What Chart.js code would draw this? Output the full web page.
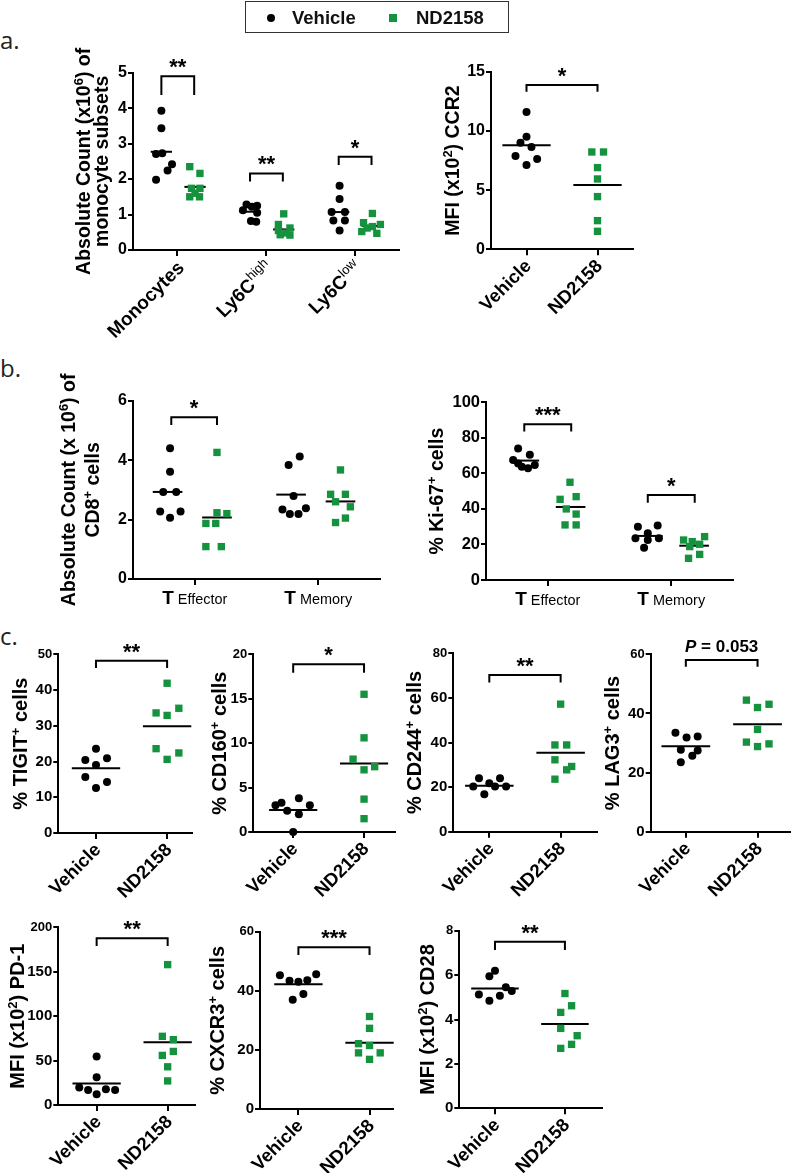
<!DOCTYPE html>
<html>
<head>
<meta charset="UTF-8">
<title>ND2158 vs Vehicle: monocytes and CD8+ T cells</title>
<script src="https://cdn.jsdelivr.net/npm/chart.js"></script>
<style>
  body { margin: 0; background: #fff; }
  #page { position: relative; width: 795px; height: 1173px; overflow: hidden; }
  #page canvas { position: absolute; left: 0; top: 0; }
  .tag { position: absolute; left: 0; font-family: 'Open Sans', sans-serif; font-size: 24px; line-height: 28px; color: #222; }
  .lg { position: absolute; z-index: 5; }
  #lgBox { left: 245px; top: 1px; width: 264px; height: 32px; box-sizing: border-box; border: 1.5px solid #333; }
  .lgText { font-family: 'Liberation Sans', Arial, sans-serif; font-weight: bold; font-size: 18.5px; line-height: 22px; color: #111; }
</style>
</head>
<body>
<div id="page">
  <div class="lg" id="lgBox"></div>
  <div class="lg" style="left:267px;top:14px;width:8px;height:8px;border-radius:50%;background:#000"></div>
  <div class="lg lgText" style="left:292px;top:7px">Vehicle</div>
  <div class="lg" style="left:389px;top:14px;width:8px;height:8px;background:#15923d"></div>
  <div class="lg lgText" style="left:416px;top:7px">ND2158</div>
  <div class="tag" style="top:26px">a.</div>
  <div class="tag" style="top:354px">b.</div>
  <div class="tag" style="top:622px">c.</div>
</div>

<script>
const FONT = "'Liberation Sans', Arial, Helvetica, sans-serif";
const GREEN = '#15923d';

// ---------- a. monocyte subsets, absolute count (x10^6)
const monoLabels = ['Monocytes', 'Ly6C^{high}', 'Ly6C^{low}'];
const monoVeh = [
  [3.93, 3.43, 2.71, 2.73, 2.42, 2.24, 1.98],
  [1.28, 1.25, 1.22, 1.12, 1.05, 0.82, 0.80],
  [1.81, 1.44, 1.07, 1.07, 0.83, 0.83, 0.55]
];
const monoVehDx = [
  [-0.18, -0.18, -0.24, -0.17, -0.06, -0.11, -0.24],
  [-0.22, -0.10, -0.16, -0.26, -0.10, -0.17, -0.11],
  [-0.17, -0.17, -0.26, -0.11, -0.24, -0.11, -0.17]
];
const monoNd = [
  [2.35, 2.16, 1.74, 1.74, 1.60, 1.50, 1.50],
  [1.02, 0.72, 0.62, 0.55, 0.48, 0.43, 0.42],
  [1.03, 0.77, 0.72, 0.66, 0.62, 0.52, 0.47]
];
const monoNdDx = [
  [0.14, 0.255, 0.16, 0.255, 0.20, 0.14, 0.25],
  [0.20, 0.14, 0.27, 0.14, 0.23, 0.16, 0.27],
  [0.20, 0.10, 0.29, 0.20, 0.14, 0.08, 0.25]
];
const monoVehMean = [2.77, 1.08, 1.07];
const monoNdMean = [1.78, 0.58, 0.68];
const monoSig = ['**', '**', '*'];
const monoSigTop = [4.9, 2.16, 2.63];
const monoSigBottom = [4.37, 1.93, 2.40];

// ---------- a. CCR2 MFI (x10^2)
const ccr2Veh = [11.6, 9.5, 9.0, 8.64, 7.88, 7.63, 7.12];
const ccr2VehDx = [0, 0, -0.085, 0.07, -0.155, 0.15, 0];
const ccr2Nd = [8.22, 8.22, 6.9, 5.94, 4.45, 2.42, 1.52];
const ccr2NdDx = [-0.08, 0.085, 0, 0, 0, 0, 0];
const ccr2Mean = [8.78, 5.43];

// ---------- b. CD8+ absolute count (x10^6)
const tLabels = ['T_{ Effector}', 'T_{ Memory}'];
const cd8Veh = [[4.40, 3.61, 2.93, 2.93, 2.27, 2.27, 2.06], [4.12, 3.84, 2.79, 2.38, 2.34, 2.19, 2.19]];
const cd8VehDx = [[-0.20, -0.20, -0.255, -0.15, -0.28, -0.115, -0.20], [-0.15, -0.24, -0.20, -0.10, -0.29, -0.23, -0.16]];
const cd8Nd = [[4.26, 2.23, 2.20, 1.87, 1.87, 1.09, 1.09], [3.67, 2.85, 2.85, 2.60, 2.43, 2.05, 1.90]];
const cd8NdDx = [[0.18, 0.18, 0.26, 0.09, 0.17, 0.09, 0.215], [0.18, 0.10, 0.22, 0.14, 0.26, 0.22, 0.14]];
const cd8VehMean = [2.93, 2.84];
const cd8NdMean = [2.07, 2.61];
const cd8Sig = ['*', ''];
const cd8SigTop = [5.44, 0];
const cd8SigBottom = [5.18, 0];

// ---------- b. % Ki-67+
const ki67Veh = [[74, 70.5, 67.5, 65.5, 64.7, 63.8, 62.9], [30.6, 30, 26.3, 23.5, 23.5, 22.5, 18.2]];
const ki67VehDx = [[-0.24, -0.145, -0.28, -0.24, -0.105, -0.21, -0.16], [-0.11, -0.27, -0.19, -0.29, -0.10, -0.19, -0.22]];
const ki67Nd = [[55, 46.9, 45.4, 40, 37.1, 31, 31], [24.4, 22.5, 21.6, 20.1, 18.8, 14.4, 12.2]];
const ki67NdDx = [[0.18, 0.23, 0.10, 0.15, 0.23, 0.14, 0.23], [0.27, 0.10, 0.17, 0.23, 0.15, 0.23, 0.14]];
const ki67VehMean = [67.2, 24.8];
const ki67NdMean = [41.1, 19.3];
const ki67Sig = ['***', '*'];
const ki67SigTop = [87.6, 47.8];
const ki67SigBottom = [83.5, 43.5];

// ---------- c. treatment groups
const treatLabels = ['Vehicle', 'ND2158'];

const tigitVeh = [23.6, 20.9, 20.4, 19.0, 15.7, 14.3, 12.6];
const tigitVehDx = [0, 0.155, -0.15, 0, -0.15, 0.155, 0];
const tigitNd = [41.9, 34.9, 33.6, 32.9, 23.6, 22.4, 20.6];
const tigitNdDx = [0, 0.165, -0.155, 0, -0.155, 0.165, 0];
const tigitMean = [18.1, 29.9];

const cd160Veh = [3.8, 3.3, 3.0, 3.0, 2.4, 2.0, 0.0];
const cd160VehDx = [0.08, -0.165, -0.25, 0.235, -0.085, 0.08, 0];
const cd160Nd = [15.5, 10.6, 8.2, 7.35, 7.0, 3.7, 1.5];
const cd160NdDx = [0, 0, -0.155, 0.15, 0, 0, 0];
const cd160Mean = [2.47, 7.72];

const cd244Veh = [24, 24, 21.75, 20.25, 20.25, 20.25, 16.8];
const cd244VehDx = [-0.145, 0.15, 0, -0.225, 0.08, 0.235, -0.07];
const cd244Nd = [57.2, 38.9, 38.9, 32.25, 29.25, 27.75, 23.55];
const cd244NdDx = [0, -0.08, 0.085, -0.08, 0.155, 0.085, -0.08];
const cd244Mean = [20.55, 35.4];

const lag3Veh = [33.5, 32.2, 31.9, 27.7, 27.5, 25.7, 23.5];
const lag3VehDx = [-0.145, 0.165, 0.01, -0.07, 0.165, 0.09, -0.07];
const lag3Nd = [44.5, 43.1, 42.0, 34.6, 30.3, 29.7, 28.8];
const lag3NdDx = [-0.155, 0.16, 0, 0, -0.155, 0.16, 0];
const lag3Mean = [28.9, 36.3];

const pd1Veh = [54.7, 31.3, 19.6, 17.7, 17.0, 17.0, 12.0];
const pd1VehDx = [0, 0, -0.245, 0.13, -0.12, 0.26, 0];
const pd1Nd = [158, 77.3, 73.5, 60.3, 55.8, 43.0, 27.1];
const pd1NdDx = [0, -0.075, 0.08, 0.08, -0.075, 0, 0];
const pd1Mean = [24.1, 70.5];

const cxcr3Veh = [45.6, 45.3, 43.6, 43.4, 43.1, 38.9, 37.0];
const cxcr3VehDx = [0.25, -0.26, 0.125, -0.125, 0, 0.07, -0.08];
const cxcr3Nd = [31.3, 27.3, 22.1, 21.5, 19.0, 19.0, 16.8];
const cxcr3NdDx = [0, 0, -0.155, 0, -0.155, 0.15, 0];
const cxcr3Mean = [42.2, 22.4];

const cd28Veh = [6.2, 5.95, 5.45, 5.28, 5.13, 5.07, 4.85];
const cd28VehDx = [0, -0.08, 0.155, 0.24, -0.23, 0.07, -0.08];
const cd28Nd = [5.17, 4.62, 4.32, 3.6, 3.27, 2.88, 2.7];
const cd28NdDx = [0, 0.095, -0.06, -0.06, 0.175, 0.095, -0.06];
const cd28Mean = [5.4, 3.8];

// significance label, bracket top and bottom (in data units) for the c panels
const cSig = ['**', '*', '**', '~{P} = 0.053', '**', '***', '**'];
const cSigTop = [48.2, 18.87, 70.3, 58.1, 187.6, 54.7, 7.5];
const cSigBottom = [46.2, 17.93, 66.9, 55.8, 179, 52.1, 7.13];

// ---------- helpers
function pairedClusters(groupX, veh, vehDx, nd, ndDx, vehMean, ndMean, off) {
  const out = [];
  groupX.forEach((g, i) => {
    out.push({ kind: 'veh', gx: g, values: veh[i], dx: vehDx[i], mean: vehMean[i], meanDx: off.veh, half: off.half });
    out.push({ kind: 'nd', gx: g, values: nd[i], dx: ndDx[i], mean: ndMean[i], meanDx: off.nd, half: off.half });
  });
  return out;
}
function pairedBrackets(groupX, sig, top, bottom, l, r) {
  return groupX.map((g, i) => sig[i] ? { x1: g + l, x2: g + r, text: sig[i], top: top[i], bottom: bottom[i] } : null)
               .filter(Boolean);
}
function twoGroup(g0, veh, vehDx, nd, ndDx, means, k) {
  return {
    groupX: [g0, g0 + 1],
    labels: treatLabels,
    clusters: [
      { kind: 'veh', gx: g0, values: veh, dx: vehDx, mean: means[0], meanDx: 0, half: 0.34 },
      { kind: 'nd', gx: g0 + 1, values: nd, dx: ndDx, mean: means[1], meanDx: 0, half: 0.34 }
    ],
    brackets: k === null ? [] : [{ x1: g0, x2: g0 + 1, text: cSig[k], top: cSigTop[k], bottom: cSigBottom[k] }]
  };
}

function parseRich(str) {
  const parts = [];
  const re = /([\^_~])\{([^}]*)\}/g;
  let last = 0, m;
  while ((m = re.exec(str))) {
    if (m.index > last) parts.push({ t: str.slice(last, m.index), k: 'n' });
    parts.push({ t: m[2], k: m[1] === '^' ? 'sup' : m[1] === '_' ? 'sub' : 'it' });
    last = re.lastIndex;
  }
  if (last < str.length) parts.push({ t: str.slice(last), k: 'n' });
  return parts;
}

// draws text with ^{sup}, _{smaller regular} and ~{italic} runs; y is the baseline
function drawRich(ctx, str, x, y, size, align, supBold) {
  const parts = parseRich(str).map(pt => {
    let font, dy = 0;
    if (pt.k === 'sup') { font = (supBold ? 'bold ' : '') + Math.round(size * 0.66) + 'px ' + FONT; dy = -size * 0.38; }
    else if (pt.k === 'sub') font = (size * 0.76) + 'px ' + FONT;
    else if (pt.k === 'it') font = 'italic bold ' + size + 'px ' + FONT;
    else font = 'bold ' + size + 'px ' + FONT;
    ctx.font = font;
    return { t: pt.t, font, dy, w: ctx.measureText(pt.t).width };
  });
  const total = parts.reduce((s, p) => s + p.w, 0);
  let cx = align === 'right' ? x - total : align === 'center' ? x - total / 2 : x;
  ctx.textAlign = 'left';
  ctx.textBaseline = 'alphabetic';
  ctx.fillStyle = '#000';
  parts.forEach(p => { ctx.font = p.font; ctx.fillText(p.t, cx, y + p.dy); cx += p.w; });
}

const decoMap = {};
const decoPlugin = {
  id: 'deco',
  afterDraw(chart) {
    const p = decoMap[chart.canvas.id];
    if (!p) return;
    const ctx = chart.ctx;
    const xs = chart.scales.x, ys = chart.scales.y;
    const [L, T, R, B] = p.box;
    ctx.save();
    // y axis titles
    p.titles.forEach(t => {
      ctx.save();
      ctx.translate(t.x, (T + B) / 2);
      ctx.rotate(-Math.PI / 2);
      drawRich(ctx, t.text, 0, 0.36 * t.size, t.size, 'center', true);
      ctx.restore();
    });
    // category labels
    p.groupX.forEach((g, i) => {
      const tx = xs.getPixelForValue(g);
      if (p.labelMode === 'rot') {
        ctx.save();
        ctx.translate(tx + p.labDx, B + p.labDy);
        ctx.rotate(-Math.PI / 4);
        drawRich(ctx, p.labels[i], 0, 0.36 * p.labSize, p.labSize, 'right', false);
        ctx.restore();
      } else {
        drawRich(ctx, p.labels[i], tx, B + p.labDy, p.labSize, 'center', false);
      }
    });
    // significance marks
    p.brackets.forEach(b => {
      const cx = (xs.getPixelForValue(b.x1) + xs.getPixelForValue(b.x2)) / 2;
      const top = ys.getPixelForValue(b.top);
      const star = /^\*+$/.test(b.text);
      drawRich(ctx, b.text, cx, top - (star ? 2 : 8), star ? 22 : 17, 'center', true);
    });
    ctx.restore();
  }
};

function lineSet(data) {
  return {
    type: 'line', data, showLine: true, borderColor: '#000', borderWidth: 2,
    pointRadius: 0, fill: false, tension: 0, clip: false, borderCapStyle: 'butt', borderJoinStyle: 'miter'
  };
}

const Y_AXIS_W = 48;   // room kept for the tick labels left of each y axis

function makeChart(id, p) {
  const canvas = document.createElement('canvas');
  canvas.id = id;
  canvas.width = 795;
  canvas.height = 1173;
  document.getElementById('page').appendChild(canvas);
  decoMap[id] = p;
  const [L, T, R, B] = p.box;
  const yw = Math.min(Y_AXIS_W, L);

  const vehPts = [], ndPts = [], lines = [];
  p.clusters.forEach(c => {
    const pts = c.values.map((v, i) => ({ x: c.gx + c.dx[i], y: v }));
    (c.kind === 'veh' ? vehPts : ndPts).push(...pts);
    lines.push(lineSet([{ x: c.gx + c.meanDx - c.half, y: c.mean }, { x: c.gx + c.meanDx + c.half, y: c.mean }]));
  });
  p.brackets.forEach(b => lines.push(lineSet([
    { x: b.x1, y: b.bottom }, { x: b.x1, y: b.top }, { x: b.x2, y: b.top }, { x: b.x2, y: b.bottom }
  ])));

  const axisGrid = len => ({
    display: true, drawOnChartArea: false, drawTicks: true, tickLength: len,
    color: '#000', lineWidth: 2, tickColor: '#000', tickWidth: 2
  });

  return new Chart(canvas, {
    type: 'scatter',
    data: {
      datasets: [
        { data: vehPts, pointStyle: 'circle', pointRadius: 4, backgroundColor: '#000', borderWidth: 0, clip: false },
        { data: ndPts, pointStyle: 'rect', pointRadius: 5.2, backgroundColor: GREEN, borderWidth: 0, clip: false },
        ...lines
      ]
    },
    options: {
      responsive: false,
      animation: false,
      devicePixelRatio: 1,
      events: [],
      layout: { padding: { left: L - yw, top: T, right: 795 - R, bottom: 1173 - B } },
      plugins: { legend: { display: false }, tooltip: { enabled: false }, title: { display: false } },
      scales: {
        x: {
          type: 'linear', min: 0, max: p.xMax,
          grid: axisGrid(6),
          border: { display: true, color: '#000', width: 2 },
          ticks: { display: false },
          afterBuildTicks: s => { s.ticks = p.groupX.map(v => ({ value: v })); },
          afterFit: s => { s.height = 0; }
        },
        y: {
          type: 'linear', min: 0, max: p.yMax,
          grid: axisGrid(5),
          border: { display: true, color: '#000', width: 2 },
          ticks: {
            stepSize: p.yStep, padding: 1, color: '#000',
            font: c => ({
              family: FONT, weight: 'bold',
              size: (p.topSmall && c.tick && c.tick.value === p.yMax) ? 13 : p.tickSize
            })
          },
          afterFit: s => { s.width = yw; }
        }
      }
    },
    plugins: [decoPlugin]
  });
}

// ---------- panels
const monoX = [0.5, 1.5, 2.5];
makeChart('monoChart', {
  box: [133, 72.7, 399, 250], xMax: 3, yMax: 5, yStep: 1, tickSize: 16,
  groupX: monoX, labels: monoLabels, labelMode: 'rot', labSize: 19, labDx: 3, labDy: 14,
  titles: [{ x: 83, size: 19.5, text: 'Absolute Count (x10^{6}) of' }, { x: 101, size: 19.5, text: 'monocyte subsets' }],
  clusters: pairedClusters(monoX, monoVeh, monoVehDx, monoNd, monoNdDx, monoVehMean, monoNdMean, { veh: -0.18, nd: 0.20, half: 0.12 }),
  brackets: pairedBrackets(monoX, monoSig, monoSigTop, monoSigBottom, -0.18, 0.19)
});

makeChart('ccr2Chart', Object.assign({
  box: [491, 71.7, 633, 249.3], xMax: 2, yMax: 15, yStep: 5, tickSize: 16,
  labelMode: 'rot', labSize: 18.5, labDx: 1, labDy: 13,
  titles: [{ x: 452, size: 19.5, text: 'MFI (x10^{2}) CCR2' }]
}, twoGroup(0.5, ccr2Veh, ccr2VehDx, ccr2Nd, ccr2NdDx, ccr2Mean, null),
   { brackets: [{ x1: 0.5, x2: 1.5, text: '*', top: 13.87, bottom: 13.3 }] }));

const tX = [0.5, 1.5];
makeChart('cd8Chart', {
  box: [133, 400.7, 380, 579], xMax: 2, yMax: 6, yStep: 2, tickSize: 16,
  groupX: tX, labels: tLabels, labelMode: 'flat', labSize: 19, labDy: 24.5,
  titles: [{ x: 68, size: 19.5, text: 'Absolute Count (x 10^{6}) of' }, { x: 92, size: 19.5, text: 'CD8^{+} cells' }],
  clusters: pairedClusters(tX, cd8Veh, cd8VehDx, cd8Nd, cd8NdDx, cd8VehMean, cd8NdMean, { veh: -0.22, nd: 0.18, half: 0.12 }),
  brackets: pairedBrackets(tX, cd8Sig, cd8SigTop, cd8SigBottom, -0.19, 0.18)
});

makeChart('ki67Chart', {
  box: [486, 402.3, 733, 580], xMax: 2, yMax: 100, yStep: 20, tickSize: 16.5,
  groupX: tX, labels: tLabels, labelMode: 'flat', labSize: 19, labDy: 25,
  titles: [{ x: 436, size: 19.5, text: '% Ki-67^{+} cells' }],
  clusters: pairedClusters(tX, ki67Veh, ki67VehDx, ki67Nd, ki67NdDx, ki67VehMean, ki67NdMean, { veh: -0.19, nd: 0.185, half: 0.12 }),
  brackets: pairedBrackets(tX, ki67Sig, ki67SigTop, ki67SigBottom, -0.19, 0.19)
});

const cCommon = { tickSize: 15, topSmall: true, labelMode: 'rot', labSize: 18.5, labDx: 1, labDy: 13 };
makeChart('tigitChart', Object.assign({}, cCommon, {
  box: [58.3, 654.3, 192, 833], xMax: 1.88, yMax: 50, yStep: 10,
  titles: [{ x: 20, size: 20, text: '% TIGIT^{+} cells' }]
}, twoGroup(0.53, tigitVeh, tigitVehDx, tigitNd, tigitNdDx, tigitMean, 0)));

makeChart('cd160Chart', Object.assign({}, cCommon, {
  box: [253.3, 654.3, 395, 832], xMax: 2.0, yMax: 20, yStep: 5,
  titles: [{ x: 219, size: 20, text: '% CD160^{+} cells' }]
}, twoGroup(0.563, cd160Veh, cd160VehDx, cd160Nd, cd160NdDx, cd160Mean, 1)));

makeChart('cd244Chart', Object.assign({}, cCommon, {
  box: [453.3, 653.3, 597, 831.7], xMax: 2.015, yMax: 80, yStep: 20,
  titles: [{ x: 414, size: 20, text: '% CD244^{+} cells' }]
}, twoGroup(0.505, cd244Veh, cd244VehDx, cd244Nd, cd244NdDx, cd244Mean, 2)));

makeChart('lag3Chart', Object.assign({}, cCommon, {
  box: [650.7, 654.3, 790, 831.7], xMax: 1.94, yMax: 60, yStep: 20,
  titles: [{ x: 612, size: 20, text: '% LAG3^{+} cells' }]
}, twoGroup(0.49, lag3Veh, lag3VehDx, lag3Nd, lag3NdDx, lag3Mean, 3)));

makeChart('pd1Chart', Object.assign({}, cCommon, {
  box: [58.3, 927.3, 195, 1105], xMax: 1.925, yMax: 200, yStep: 50,
  titles: [{ x: 17, size: 20, text: 'MFI (x10^{2}) PD-1' }]
}, twoGroup(0.54, pd1Veh, pd1VehDx, pd1Nd, pd1NdDx, pd1Mean, 4)));

makeChart('cxcr3Chart', Object.assign({}, cCommon, {
  box: [260, 931.7, 393, 1109], xMax: 1.87, yMax: 60, yStep: 20,
  titles: [{ x: 217, size: 20, text: '% CXCR3^{+} cells' }]
}, twoGroup(0.54, cxcr3Veh, cxcr3VehDx, cxcr3Nd, cxcr3NdDx, cxcr3Mean, 5)));

makeChart('cd28Chart', Object.assign({}, cCommon, {
  box: [459.3, 930.7, 602, 1108.3], xMax: 2.04, yMax: 8, yStep: 2,
  titles: [{ x: 427, size: 20, text: 'MFI (x10^{2}) CD28' }]
}, twoGroup(0.51, cd28Veh, cd28VehDx, cd28Nd, cd28NdDx, cd28Mean, 6)));
</script>
</body>
</html>
